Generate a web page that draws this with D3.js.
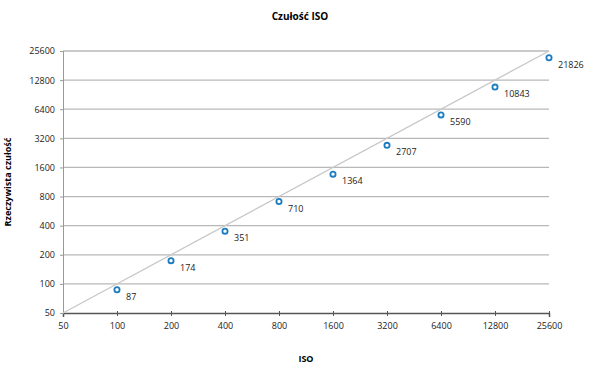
<!DOCTYPE html>
<html>
<head>
<meta charset="utf-8">
<script src="https://cdn.jsdelivr.net/npm/d3@7"></script>
<style>
  body { margin: 0; background: #fff; }
  text { font-family: 'Open Sans', sans-serif; }
</style>
</head>
<body>
<div id="chart"></div>
<script>
var isoValues = [100, 200, 400, 800, 1600, 3200, 6400, 12800, 25600]
var realValues = [87, 174, 351, 710, 1364, 2707, 5590, 10843, 21826]
var tickValues = [50, 100, 200, 400, 800, 1600, 3200, 6400, 12800, 25600]

var margin = { top: 51, left: 63, right: 51, bottom: 62 }
var width = 600 - margin.left - margin.right
var height = 375 - margin.top - margin.bottom

var root = d3.select('#chart')
  .append('svg')
  .attr('width', 600)
  .attr('height', 375)

var svg = root.append('g')
  .attr('transform', 'translate(' + margin.left + ',' + margin.top + ')')

var x = d3.scaleLog().base(2).domain([50, 25600]).range([0, width])
var y = d3.scaleLog().base(2).domain([50, 25600]).range([height, 0])

// gridlines
svg.append('g')
  .selectAll('line')
  .data(tickValues.slice(1))
  .enter()
  .append('line')
  .attr('x1', 0)
  .attr('x2', width)
  .attr('y1', d => y(d))
  .attr('y2', d => y(d))
  .attr('stroke', '#b8b8b8')
  .attr('stroke-width', 1.3)

var xAxis = d3.axisBottom(x)
  .tickValues(tickValues)
  .tickFormat(d3.format('d'))
  .tickSize(4)
  .tickPadding(6)
var gx = svg.append('g')
  .attr('class', 'axis x-axis')
  .attr('transform', 'translate(0,' + height + ')')
  .call(xAxis)
gx.select('.domain').attr('stroke', '#555').attr('stroke-width', 1.5)
gx.selectAll('line').attr('stroke', '#555').attr('y1', -2).attr('y2', 3)
gx.selectAll('text').attr('font-size', 9).attr('fill', '#222')

var yAxis = d3.axisLeft(y)
  .tickValues(tickValues)
  .tickFormat(d3.format('d'))
  .tickSize(3)
  .tickPadding(5)
var gy = svg.append('g')
  .attr('class', 'axis y-axis')
  .call(yAxis)
gy.select('.domain').attr('stroke', '#999').attr('stroke-width', 1)
gy.selectAll('line').attr('stroke', '#999')
gy.selectAll('text').attr('font-size', 9).attr('fill', '#222')

// reference diagonal
svg.append('line')
  .attr('x1', x(50))
  .attr('y1', y(50))
  .attr('x2', x(25600))
  .attr('y2', y(25600))
  .attr('stroke', '#c8c8c8')
  .attr('stroke-width', 1.3)

var points = isoValues.map(function(d, i) {
  return { iso: d, real: realValues[i] }
})

svg.selectAll('circle')
  .data(points)
  .enter()
  .append('circle')
  .attr('cx', d => x(d.iso))
  .attr('cy', d => y(d.real))
  .attr('r', 2.6)
  .attr('fill', '#fff')
  .attr('stroke', '#1b7cc0')
  .attr('stroke-width', 1.8)

svg.selectAll('.label')
  .data(points)
  .enter()
  .append('text')
  .attr('class', 'label')
  .attr('x', d => x(d.iso) + 9)
  .attr('y', d => y(d.real) + 10)
  .attr('font-size', 9)
  .attr('fill', '#222')
  .text(d => d.real)

root.append('text')
  .text('Czułość ISO')
  .attr('x', 300)
  .attr('y', 20)
  .attr('text-anchor', 'middle')
  .attr('font-size', 10)
  .attr('font-weight', 'bold')

root.append('text')
  .text('ISO')
  .attr('x', 306)
  .attr('y', 362)
  .attr('text-anchor', 'middle')
  .attr('font-size', 9)
  .attr('font-weight', 'bold')

root.append('text')
  .text('Rzeczywista czułość')
  .attr('transform', 'translate(11,182) rotate(-90)')
  .attr('text-anchor', 'middle')
  .attr('font-size', 9)
  .attr('font-weight', 'bold')
</script>
</body>
</html>
